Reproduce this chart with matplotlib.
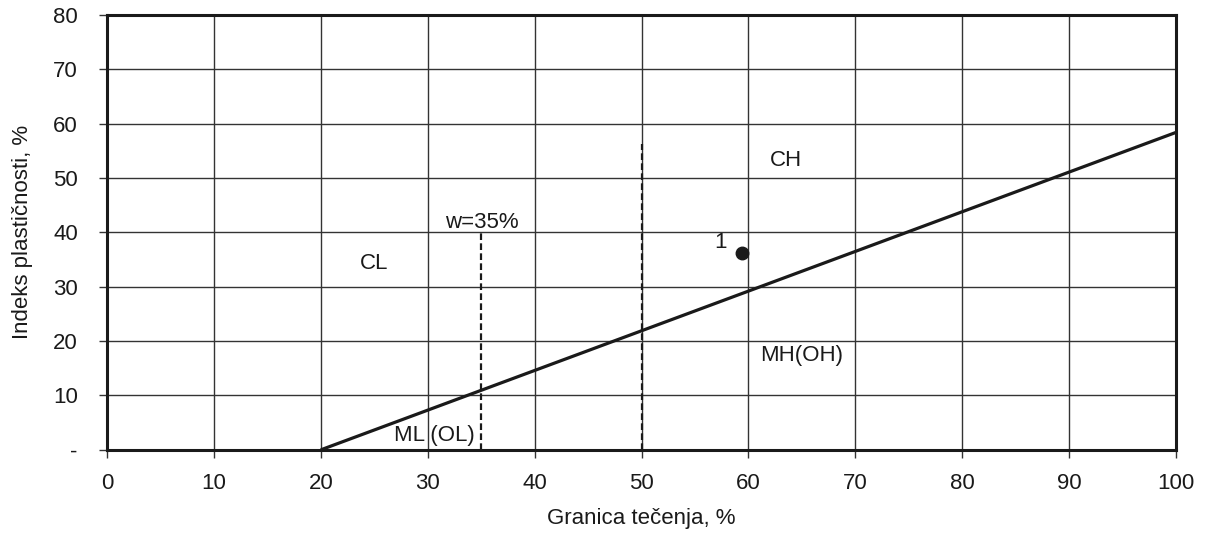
import matplotlib
matplotlib.use("Agg")
import matplotlib.pyplot as plt

plt.rcParams['font.family'] = ['Liberation Sans', 'DejaVu Sans']

# Data
x_ticks = [0, 10, 20, 30, 40, 50, 60, 70, 80, 90, 100]
x_tick_labels = ['0', '10', '20', '30', '40', '50', '60', '70', '80', '90', '100']
y_ticks = [0, 10, 20, 30, 40, 50, 60, 70, 80]
y_tick_labels = ['-', '10', '20', '30', '40', '50', '60', '70', '80']

a_line_ll = [20, 100]
a_line_pi = [0, 58.4]

w35_x = [35, 35]
w35_y = [0, 40.5]
w50_x = [50, 50]
w50_y = [0, 56.3]

sample_ll = [59.4]
sample_pi = [36.3]
sample_names = ['1']

zone_names = ['CL', 'CH', 'MH(OH)', 'ML (OL)']
zone_x = [25.0, 63.5, 65.0, 30.6]
zone_y = [34.2, 53.3, 17.3, 2.7]

FS = 16

fig = plt.figure(figsize=(12.15, 5.33), dpi=100)
ax = fig.add_axes([0.088, 0.156, 0.880, 0.816])

ax.set_xlim(0, 100)
ax.set_ylim(0, 80)
ax.set_xticks(x_ticks)
ax.set_xticklabels(x_tick_labels)
ax.set_yticks(y_ticks)
ax.set_yticklabels(y_tick_labels)
ax.grid(True, color='#333333', linewidth=1.0)
ax.set_axisbelow(True)
for s in ax.spines.values():
    s.set_linewidth(2.2)
    s.set_color('#1a1a1a')
ax.tick_params(axis='both', direction='out', length=6, width=1.0, color='#333333',
               labelsize=FS, labelcolor='#1a1a1a')
ax.tick_params(axis='x', pad=11)
ax.tick_params(axis='y', pad=15)

ax.plot(a_line_ll, a_line_pi, color='#1a1a1a', linewidth=2.3, solid_capstyle='butt')
ax.plot(w35_x, w35_y, color='#1a1a1a', linewidth=1.6, linestyle=(0, (3, 1.5)))
ax.plot(w50_x, w50_y, color='#1a1a1a', linewidth=1.6, linestyle=(0, (3, 1.5)))

ax.plot(sample_ll, sample_pi, 'o', color='#1a1a1a', markersize=9)
for n, xx, yy in zip(sample_names, sample_ll, sample_pi):
    ax.text(xx - 2.0, yy + 1.8, n, fontsize=FS, ha='center', va='center', color='#1a1a1a')

for n, xx, yy in zip(zone_names, zone_x, zone_y):
    ax.text(xx, yy, n, fontsize=FS, ha='center', va='center', color='#1a1a1a')

ax.text(35.1, 41.8, 'w=35%', fontsize=FS, ha='center', va='center', color='#1a1a1a')

ax.set_xlabel('Granica tečenja, %', fontsize=FS, color='#1a1a1a', labelpad=10)
ax.set_ylabel('Indeks plastičnosti, %', fontsize=FS, color='#1a1a1a', labelpad=14)

fig.savefig('out.png', dpi=100)
